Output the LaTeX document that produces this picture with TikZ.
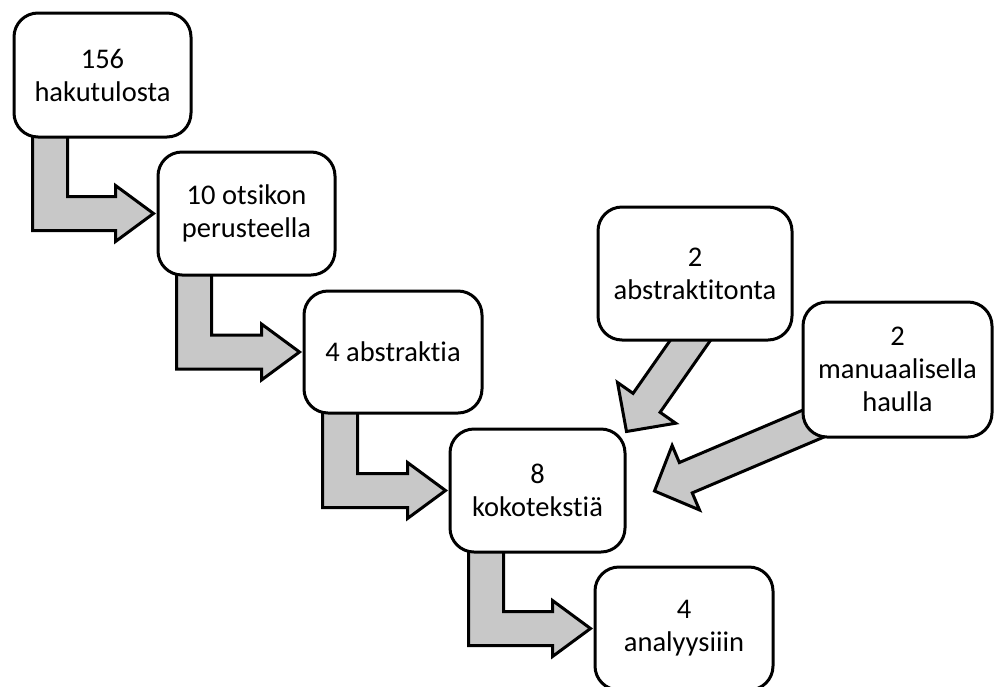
\documentclass[tikz,border=0pt]{standalone}
\usepackage{fontspec}
\setmainfont{Carlito}[Ligatures={NoCommon,NoContextual}]
\usetikzlibrary{calc}
\pgfdeclarelayer{background}
\pgfsetlayers{background,main}
\definecolor{arrowgray}{RGB}{200,200,200}
\tikzset{
  box/.style={draw=black, fill=white, line width=3pt, rounded corners=24pt,
    align=center, inner sep=0pt, font=\fontsize{28.5pt}{33pt}\selectfont},
  blockarrow/.style={draw=black, fill=arrowgray, line width=3pt, line join=miter, miter limit=10},
}
\newcommand{\bentarr}[2]{%
  \path[blockarrow] let \p1=(#1.south west), \p2=(#2.west) in
    (\x1+20pt,\y1+6pt) -- (\x1+55pt,\y1+6pt) -- (\x1+55pt,\y2+17pt) --
    (\x2-41pt,\y2+17pt) -- (\x2-41pt,\y2+28pt) -- (\x2-3pt,\y2) --
    (\x2-41pt,\y2-28pt) -- (\x2-41pt,\y2-17pt) -- (\x1+20pt,\y2-17pt) -- cycle;}
\begin{document}
\begin{tikzpicture}[x=1pt,y=-1pt]
\useasboundingbox (0,0) rectangle (995,686);
\clip (0,0) rectangle (995,686);
\node[box, minimum width=177pt, minimum height=124pt] (b1) at (102.5,75) {156\\hakutulosta};
\node[box, minimum width=177pt, minimum height=123pt] (b2) at (246.5,213.5) {10 otsikon\\perusteella};
\node[box, minimum width=178pt, minimum height=122pt] (b3) at (393,352) {4 abstraktia};
\node[box, minimum width=175pt, minimum height=123pt] (b4) at (537.5,490.5) {8\\kokotekstiä};
\node[box, minimum width=178pt, minimum height=123pt] (b5) at (684,628.5) {4\\analyysiiin};
\node[box, minimum width=194pt, minimum height=133pt] (b6) at (695,273.5) {2\\abstraktitonta};
\node[box, minimum width=189pt, minimum height=135pt] (b7) at (897.5,369.5) {2\\manuaalisella\\haulla};
\begin{pgfonlayer}{background}
\bentarr{b1}{b2}
\bentarr{b2}{b3}
\bentarr{b3}{b4}
\bentarr{b4}{b5}
\coordinate (t5) at ($(b4.north east)+(0,4)$);
\coordinate (t6) at ($(b4.east)+(28,0.5)$);
\begin{scope}[shift={(t5)}, rotate=235]
  \path[blockarrow] (0,0) -- (-35,35.5) -- (-35,16.5) -- (-135,16.5) -- (-135,-16.5) -- (-35,-16.5) -- (-35,-35.5) -- cycle;
\end{scope}
\begin{scope}[shift={(t6)}, rotate=203]
  \path[blockarrow] (0,0) -- (-34,35) -- (-34,16.5) -- (-194,16.5) -- (-194,-16.5) -- (-34,-16.5) -- (-34,-35) -- cycle;
\end{scope}
\end{pgfonlayer}
\end{tikzpicture}
\end{document}
